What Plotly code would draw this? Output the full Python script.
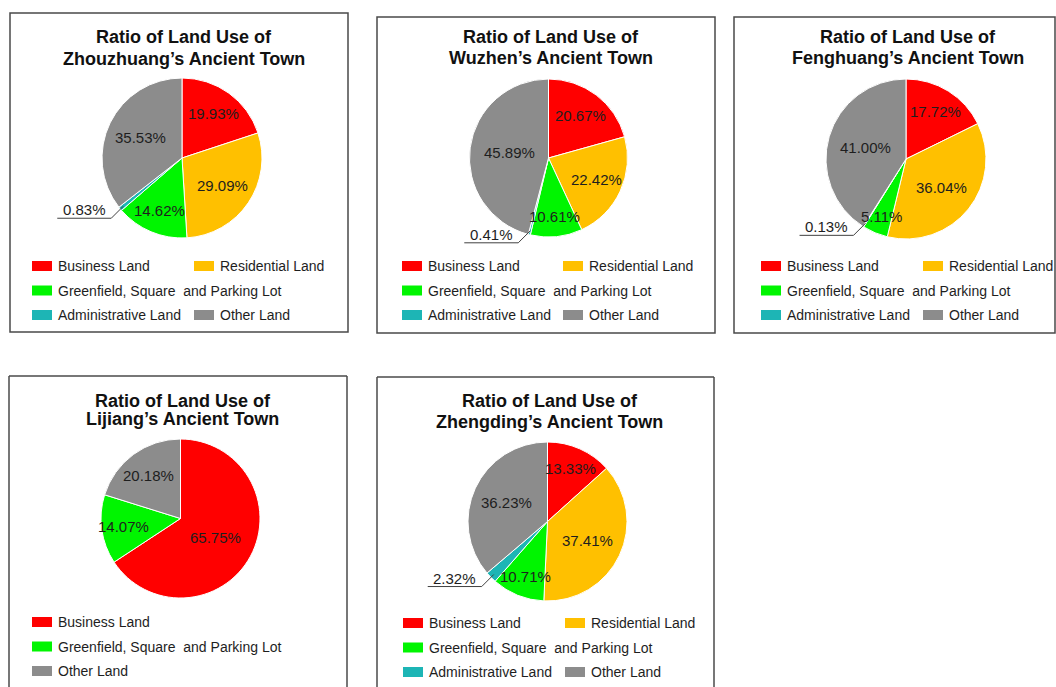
import math
import plotly.graph_objects as go

W, H = 1056, 687

# ---------------- data ----------------
categories = ["Business Land", "Residential Land",
              "Greenfield, Square\u00a0 and Parking Lot",
              "Administrative Land", "Other Land"]
lijiang_categories = ["Business Land",
                      "Greenfield, Square\u00a0 and Parking Lot",
                      "Other Land"]

towns = ["Zhouzhuang", "Wuzhen", "Fenghuang", "Lijiang", "Zhengding"]

zhouzhuang = [19.93, 29.09, 14.62, 0.83, 35.53]
wuzhen = [20.67, 22.42, 10.61, 0.41, 45.89]
fenghuang = [17.72, 36.04, 5.11, 0.13, 41.00]
lijiang = [65.75, 14.07, 20.18]
zhengding = [13.33, 37.41, 10.71, 2.32, 36.23]

# ---------------- styles ----------------
cat_colors = {
    "Business Land": "#FF0000",
    "Residential Land": "#FFC000",
    "Greenfield, Square\u00a0 and Parking Lot": "#00F500",
    "Administrative Land": "#1DB5B5",
    "Other Land": "#8C8C8C",
}

series = [
    (categories, zhouzhuang),
    (categories, wuzhen),
    (categories, fenghuang),
    (lijiang_categories, lijiang),
    (categories, zhengding),
]

# panel geometry in pixels
panels = [
    dict(cx=182, cy=158, r=80, box=(10, 13, 348, 332), title_y=(37, 59), leg_y=266, leg_x=(32, 194)),
    dict(cx=548.5, cy=158, r=79, box=(377, 17, 715, 333), title_y=(37, 58), leg_y=266, leg_x=(402, 563)),
    dict(cx=906, cy=159, r=80, box=(734, 17, 1055, 333), title_y=(37, 58), leg_y=266, leg_x=(761, 923)),
    dict(cx=180.5, cy=518.5, r=79.5, box=(9, 376, 347, None), title_y=(401, 419), leg_y=622, leg_x=(32, 194)),
    dict(cx=547.5, cy=521.5, r=79.5, box=(377, 377, 714, None), title_y=(401, 422), leg_y=623, leg_x=(403, 565)),
]
legend_grid5 = [(0, 0), (0, 1), (1, 0), (2, 0), (2, 1)]
legend_grid3 = [(0, 0), (1, 0), (2, 0)]
ROW_GAP = 24.5

FONT = "Liberation Sans, Arial, sans-serif"
TXT = "#1e1e1e"


def px(x):
    return x / W


def py(y):
    return 1 - y / H


fig = go.Figure()
shapes = []
annotations = []

for i, (p, town, (cats, vals)) in enumerate(zip(panels, towns, series)):
    cx, cy, r = p["cx"], p["cy"], p["r"]
    fig.add_trace(go.Pie(
        labels=cats, values=vals, sort=False, direction="clockwise", rotation=0,
        marker=dict(colors=[cat_colors[c] for c in cats], line=dict(color="white", width=1)),
        textinfo="none", hoverinfo="label+percent", showlegend=False,
        domain=dict(x=[px(cx - r), px(cx + r)], y=[py(cy + r), py(cy - r)]),
        name=town,
    ))

    # box
    x0, y0, x1, y1 = p["box"]
    bl = dict(color="#4a4a4a", width=1.5)
    if y1 is not None:
        shapes.append(dict(type="rect", xref="paper", yref="paper",
                           x0=px(x0), x1=px(x1), y0=py(y1), y1=py(y0), line=bl))
    else:
        for (ax, ay, bx, by) in [(x0, y0, x1, y0), (x0, y0, x0, H + 5), (x1, y0, x1, H + 5)]:
            shapes.append(dict(type="line", xref="paper", yref="paper",
                               x0=px(ax), x1=px(bx), y0=py(ay), y1=py(by), line=bl))

    # title
    tx = cx + 2
    for line_txt, ty in zip(["Ratio of Land Use of", f"{town}\u2019s Ancient Town"], p["title_y"]):
        annotations.append(dict(x=px(tx), y=py(ty), xref="paper", yref="paper",
                                text=f"<b>{line_txt}</b>", showarrow=False,
                                xanchor="center", yanchor="middle",
                                font=dict(family=FONT, size=18, color="#111111")))

    # slice labels
    total = sum(vals)
    cum = 0.0
    for c, v in zip(cats, vals):
        frac = v / total
        theta = 2 * math.pi * (cum + frac / 2)
        cum += frac
        s, co = math.sin(theta), math.cos(theta)
        label = f"{v:.2f}%"
        if v < 3:
            sx0 = cx + 0.95 * r * s
            sy0 = cy - 0.95 * r * co
            dx = -1 if s < 0 else 1
            dy = 1 if co < 0 else -1
            ex, ey = sx0 + 12 * dx, sy0 + 12 * dy
            fx = ex + 54 * dx
            shapes.append(dict(type="path", xref="paper", yref="paper",
                               path=f"M {px(sx0)},{py(sy0)} L {px(ex)},{py(ey)} L {px(fx)},{py(ey)}",
                               line=dict(color="#404040", width=1)))
            annotations.append(dict(x=px((ex + fx) / 2), y=py(ey - 8.5), xref="paper", yref="paper",
                                    text=label, showarrow=False, xanchor="center", yanchor="middle",
                                    font=dict(family=FONT, size=15, color=TXT)))
        else:
            f = min(0.8, max(0.5, 0.82 - 0.007 * v))
            lx = cx + f * r * s
            ly = cy - f * r * co
            annotations.append(dict(x=px(lx), y=py(ly), xref="paper", yref="paper",
                                    text=label, showarrow=False, xanchor="center", yanchor="middle",
                                    font=dict(family=FONT, size=15, color=TXT)))

    # legend
    grid = legend_grid5 if len(cats) == 5 else legend_grid3
    for c, (row, col) in zip(cats, grid):
        sx = p["leg_x"][col]
        sy = p["leg_y"] + row * ROW_GAP
        shapes.append(dict(type="rect", xref="paper", yref="paper",
                           x0=px(sx), x1=px(sx + 20), y0=py(sy + 5), y1=py(sy - 5),
                           fillcolor=cat_colors[c], line=dict(width=0)))
        annotations.append(dict(x=px(sx + 24), y=py(sy), xref="paper", yref="paper",
                                text=c, showarrow=False, xanchor="left", yanchor="middle",
                                font=dict(family=FONT, size=14, color=TXT)))

fig.update_layout(
    width=W, height=H,
    margin=dict(l=0, r=0, t=0, b=0),
    paper_bgcolor="white", plot_bgcolor="white",
    shapes=shapes, annotations=annotations,
    showlegend=False,
)

fig.write_html("out.html",
               config={"displayModeBar": False},
               post_script="document.body.style.margin='0';document.body.style.overflow='hidden';")
